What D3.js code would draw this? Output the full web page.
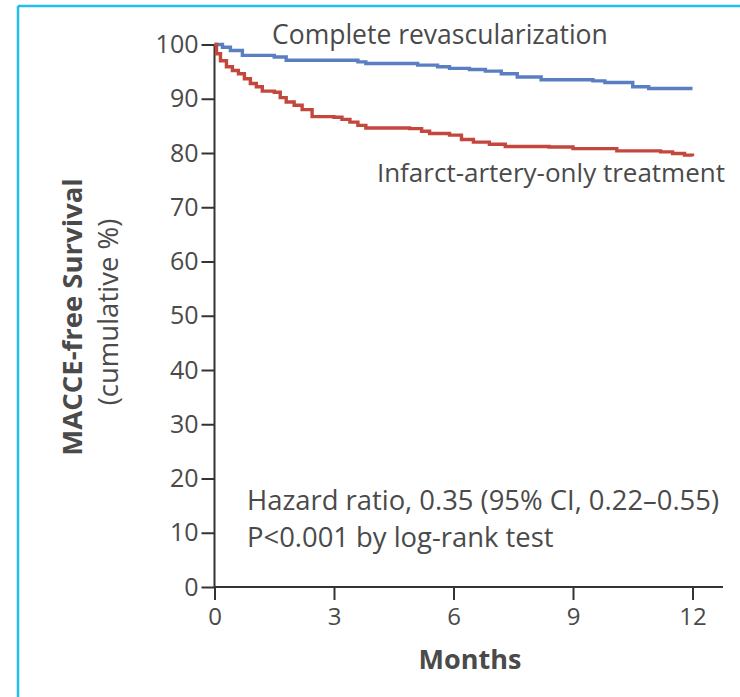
<!DOCTYPE html>
<html lang="en"><head><meta charset="utf-8">
<title>MACCE-free survival</title>
<script src="https://d3js.org/d3.v7.min.js"></script>
<style>
  body { margin: 0; background: #fff; }
  text { font-family: "Open Sans", sans-serif; fill: #4a4a4a; }
</style>
</head>
<body>
<script>
// data (months, survival %)
var completeMonths = [0, 0.2, 0.4, 0.7, 1.5, 1.8, 3.6, 3.8, 4.9, 5.1, 5.6, 5.9, 6.4, 6.8, 7.2, 7.6, 8.2, 9.5, 9.8, 10.5, 10.9, 12];
var completeValues = [100, 99.5, 98.9, 98.0, 97.7, 97.1, 96.8, 96.5, 96.5, 96.2, 95.9, 95.6, 95.4, 95.1, 94.6, 94.0, 93.5, 93.3, 93.0, 92.2, 91.9, 91.9];

var infarctMonths = [0, 0.05, 0.15, 0.3, 0.45, 0.6, 0.75, 0.9, 1.05, 1.2, 1.5, 1.65, 1.8, 2.0, 2.2, 2.45, 3.0, 3.2, 3.4, 3.6, 3.8, 4.9, 5.2, 5.4, 5.9, 6.2, 6.5, 6.9, 7.3, 8.4, 9.0, 10.1, 11.2, 11.5, 11.8, 12];
var infarctValues = [100, 98.3, 97.0, 95.9, 95.2, 94.6, 93.7, 92.8, 92.2, 91.4, 91.2, 90.2, 89.4, 88.8, 88.0, 86.7, 86.6, 86.2, 85.7, 85.1, 84.6, 84.5, 84.0, 83.6, 83.3, 82.5, 82.0, 81.6, 81.2, 81.1, 80.8, 80.4, 80.2, 79.9, 79.6, 79.4];

var yTicks = [0, 10, 20, 30, 40, 50, 60, 70, 80, 90, 100];
var xTicks = [0, 3, 6, 9, 12];

var seriesNames = ["Complete revascularization", "Infarct-artery-only treatment"];
var noteLines = ["Hazard ratio, 0.35 (95% CI, 0.22\u20130.55)", "P<0.001 by log-rank test"];

var w = 740, h = 697;

var svg = d3.select("body").append("svg")
  .attr("width", w)
  .attr("height", h);

// cyan frame (only top and left edges visible)
svg.append("line").attr("x1", 18).attr("y1", 6).attr("x2", w).attr("y2", 6)
  .attr("stroke", "#22bde8").attr("stroke-width", 2.5);
svg.append("line").attr("x1", 18).attr("y1", 6).attr("x2", 18).attr("y2", h)
  .attr("stroke", "#22bde8").attr("stroke-width", 2.5);

var x = d3.scaleLinear().domain([0, 12]).range([214.5, 692.5]);
var y = d3.scaleLinear().domain([0, 100]).range([587, 44.5]);

// axes
var yAxis = svg.append("g")
  .attr("transform", "translate(" + x(0) + ",0)")
  .call(d3.axisLeft(y).tickValues(yTicks).tickSize(13).tickPadding(3));

var xAxis = svg.append("g")
  .attr("transform", "translate(0," + y(0) + ")")
  .call(d3.axisBottom(x).tickValues(xTicks).tickSize(13).tickPadding(8));

[yAxis, xAxis].forEach(function(g) {
  g.select(".domain").remove();
  g.selectAll(".tick line").attr("stroke", "#333").attr("stroke-width", 2);
  g.selectAll(".tick text").style("font-family", "Open Sans, sans-serif").attr("fill", "#4a4a4a");
});
yAxis.selectAll(".tick text").style("font-size", "25px");
xAxis.selectAll(".tick text").style("font-size", "24px");

svg.append("line")
  .attr("x1", x(0)).attr("x2", x(0))
  .attr("y1", y(100)).attr("y2", y(0))
  .attr("stroke", "#333").attr("stroke-width", 2);
svg.append("line")
  .attr("x1", x(0)).attr("x2", 723)
  .attr("y1", y(0)).attr("y2", y(0))
  .attr("stroke", "#333").attr("stroke-width", 2);

// curves
var line = d3.line()
  .x(function(d) { return x(d[0]); })
  .y(function(d) { return y(d[1]); })
  .curve(d3.curveStepAfter);

svg.append("path")
  .datum(d3.zip(completeMonths, completeValues))
  .attr("d", line)
  .attr("fill", "none")
  .attr("stroke", "#5a7ec2")
  .attr("stroke-width", 3.4);

svg.append("path")
  .datum(d3.zip(infarctMonths, infarctValues))
  .attr("d", line)
  .attr("fill", "none")
  .attr("stroke", "#c4473e")
  .attr("stroke-width", 3.4);

// series labels
svg.append("text")
  .attr("x", 272).attr("y", 44)
  .style("font-size", "26.5px")
  .text(seriesNames[0]);

svg.append("text")
  .attr("x", 725).attr("y", 182)
  .attr("text-anchor", "end")
  .style("font-size", "26px")
  .text(seriesNames[1]);

// note
svg.selectAll(".note")
  .data(noteLines)
  .enter().append("text")
  .attr("class", "note")
  .attr("x", 247)
  .attr("y", function(d, i) { return 510 + i * 37; })
  .style("font-size", "27.4px")
  .text(function(d) { return d; });

// axis titles
svg.append("text")
  .attr("transform", "translate(82,317) rotate(-90)")
  .attr("text-anchor", "middle")
  .style("font-size", "27.5px")
  .style("font-weight", "bold")
  .text("MACCE-free Survival");

svg.append("text")
  .attr("transform", "translate(118,312) rotate(-90)")
  .attr("text-anchor", "middle")
  .style("font-size", "27.5px")
  .text("(cumulative %)");

svg.append("text")
  .attr("x", 470).attr("y", 669)
  .attr("text-anchor", "middle")
  .style("font-size", "27px")
  .style("font-weight", "bold")
  .text("Months");
</script>
</body></html>
